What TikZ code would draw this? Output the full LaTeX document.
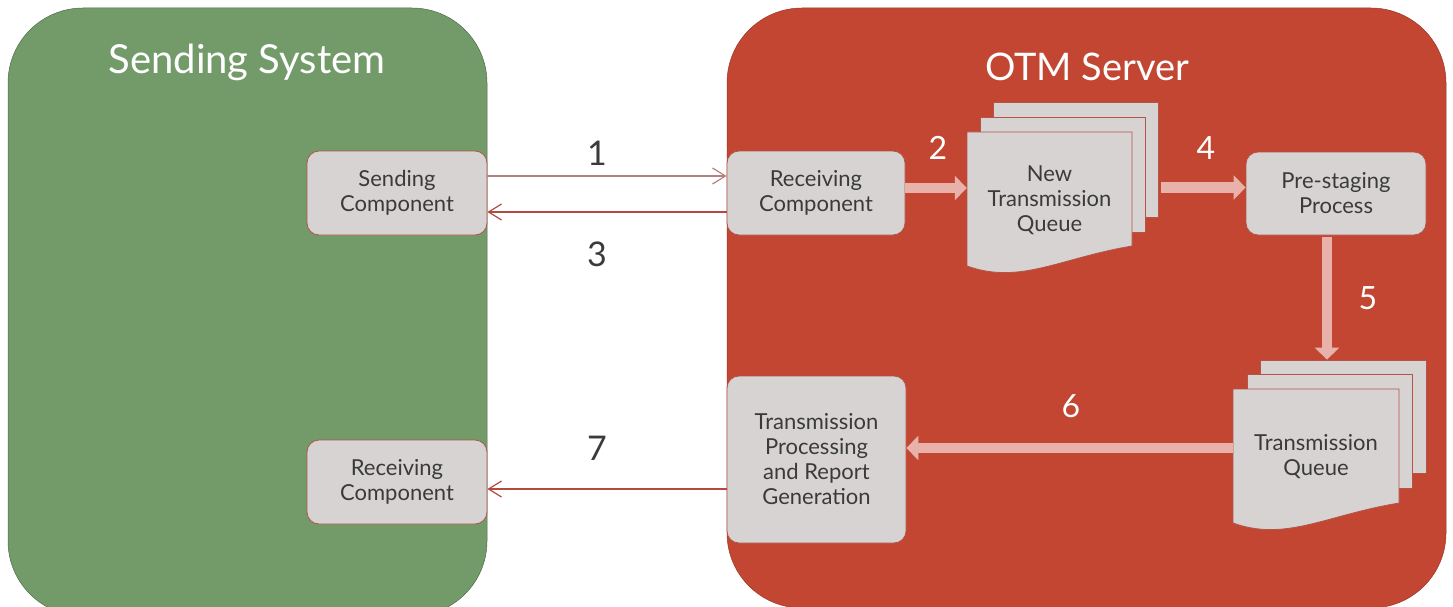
\documentclass[tikz,border=0pt]{standalone}
\usepackage{fontspec}
\setmainfont{Lato}
\usetikzlibrary{arrows.meta,calc}
\definecolor{grn}{RGB}{115,155,106}
\definecolor{rd}{RGB}{194,70,50}
\definecolor{nfill}{RGB}{215,211,211}
\definecolor{nline}{RGB}{178,84,72}
\definecolor{afill}{RGB}{232,178,170}
\definecolor{tdark}{RGB}{58,58,58}
\definecolor{lnone}{RGB}{180,130,125}
\definecolor{lnthree}{RGB}{178,74,62}
\begin{document}
\begin{tikzpicture}[x=1pt,y=-1pt,
 proc/.style={draw=nline, line width=0.8pt, fill=nfill, rounded corners=12pt, text=tdark, align=center, font=\fontsize{22}{25}\selectfont, inner sep=0pt},
 docback/.style={draw=nline, line width=0.8pt, fill=nfill, inner sep=0pt},
 doctext/.style={text=tdark, align=center, font=\fontsize{22}{25}\selectfont, inner sep=0pt},
 titletext/.style={text=white, font=\fontsize{40}{48}\selectfont},
 numdark/.style={text=tdark, font=\fontsize{34}{40}\selectfont},
 numwhite/.style={text=white, font=\fontsize{32}{38}\selectfont},
 thinarrow/.style={line width=1.2pt, -{Straight Barb[length=13pt,width=16pt]}},
 blockarrow/.style={line width=10.5pt, afill, -{Triangle[length=12pt,width=24pt]}},
]
\useasboundingbox (0,0) rectangle (1453,607);
\begin{scope}
\clip (0,0) rectangle (1453,607);
\filldraw[fill=grn, draw=grn!70!black, line width=0.5pt, rounded corners=75pt] (8,8) rectangle (487,616);
\filldraw[fill=rd, draw=rd!80!black, line width=0.5pt, rounded corners=75pt] (727,8) rectangle (1446,608);
\end{scope}

\node[titletext] (t1) at (247,62) {Sending System};
\node[titletext, font=\fontsize{38}{46}\selectfont] (t2) at (1087,67) {OTM Server};

% process boxes
\node[proc, minimum width=180pt, minimum height=84pt] (sc) at (397,193) {Sending\\Component};
\node[proc, minimum width=180pt, minimum height=84pt] (rcl) at (397,482) {Receiving\\Component};
\node[proc, minimum width=178pt, minimum height=84pt] (rc) at (816,193) {Receiving\\Component};
\node[proc, minimum width=180pt, minimum height=83pt] (ps) at (1336,193.5) {Pre-staging\\Process};
\node[proc, minimum width=179pt, minimum height=167pt] (tprg) at (816.5,459.5) {Transmission\\Processing\\and Report\\Generation};

% new transmission queue (multi-document)
\node[docback, minimum width=165pt, minimum height=115pt] (ntqc) at (1075.5,159.5) {};
\node[docback, minimum width=165pt, minimum height=115pt] (ntqb) at (1062.5,174.5) {};
\filldraw[draw=nline, line width=0.8pt, fill=nfill] (967,132) -- (1132,132) -- (1132,246)
  .. controls (1060,258) and (1020,285) .. (967,266) -- cycle;
\node[doctext, minimum width=165pt, minimum height=136pt] (ntq) at (1049.5,200) {New\\Transmission\\Queue};

% transmission queue (multi-document)
\node[docback, minimum width=166pt, minimum height=113pt] (tqc) at (1343,416.5) {};
\node[docback, minimum width=165pt, minimum height=114pt] (tqb) at (1329.5,431) {};
\filldraw[draw=nline, line width=0.8pt, fill=nfill] (1233,389) -- (1399,389) -- (1399,503)
  .. controls (1326,515) and (1286,542) .. (1233,523) -- cycle;
\node[doctext, minimum width=166pt, minimum height=135pt] (tq) at (1316,456.5) {Transmission\\Queue};

% coordinates for connector heights
\coordinate (aone) at (0,176);
\coordinate (athree) at (0,212);
\coordinate (aseven) at (0,489);
\coordinate (atwo) at (0,188);
\coordinate (afour) at (0,187.5);
\coordinate (afive) at (1327,0);
\coordinate (asix) at (0,448);

% thin connectors
\draw[thinarrow, lnone] (sc.east |- aone) -- (rc.west |- aone);
\draw[thinarrow, lnthree] (rc.west |- athree) -- (sc.east |- athree);
\draw[thinarrow, lnthree] (tprg.west |- aseven) -- (rcl.east |- aseven);

% block arrows
\draw[blockarrow] (rc.east |- atwo) -- (ntq.west |- atwo);
\draw[blockarrow, shorten <=3pt] (ntqc.east |- afour) -- (ps.west |- afour);
\draw[blockarrow, shorten <=2pt] (ps.south -| afive) -- (tqc.north -| afive);
\draw[blockarrow] (tq.west |- asix) -- (tprg.east |- asix);

% labels
\node[numdark] (lone) at (597,153) {1};
\node[numdark] (lthree) at (597,254) {3};
\node[numdark] (lseven) at (597,448) {7};
\node[numwhite] (ltwo) at (938,148) {2};
\node[numwhite] (lfour) at (1206,148) {4};
\node[numwhite] (lfive) at (1368,298) {5};
\node[numwhite] (lsix) at (1071,406) {6};
\end{tikzpicture}
\end{document}
